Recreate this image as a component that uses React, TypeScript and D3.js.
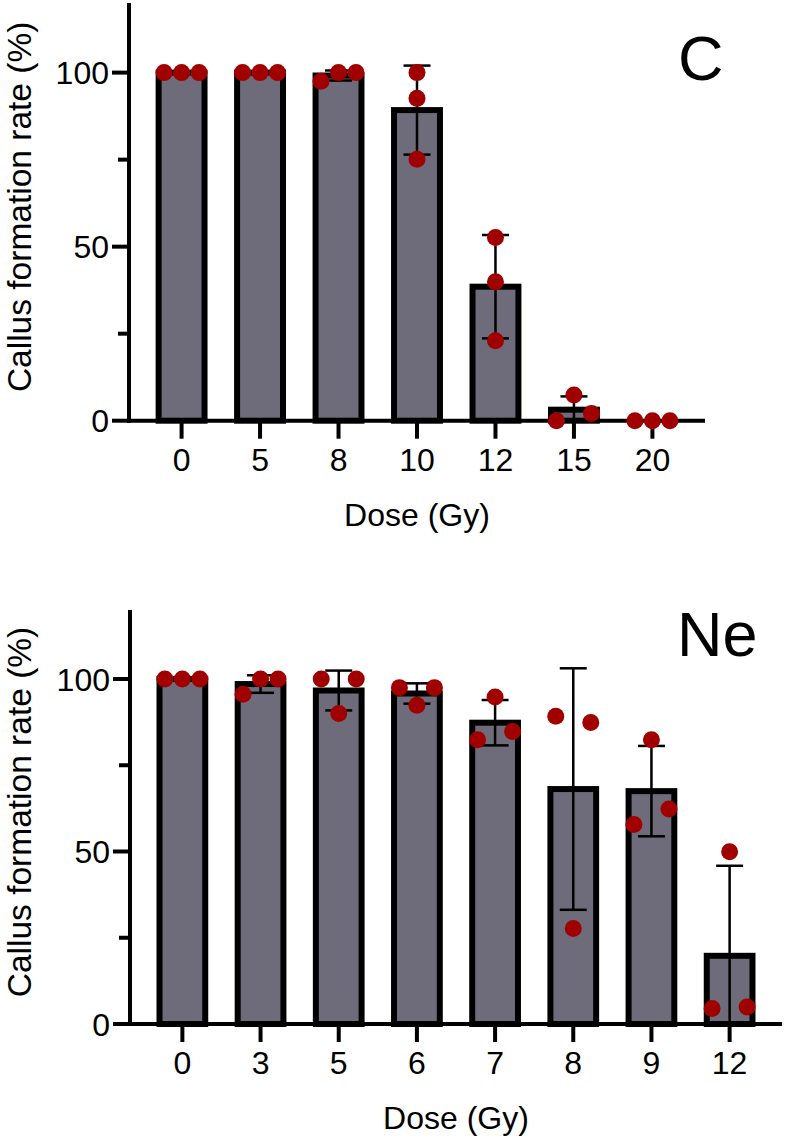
import * as d3 from "d3";

// C ion irradiation: callus formation rate (%) per replicate
const cDoses = ["0", "5", "8", "10", "12", "15", "20"];
const cPoints = [
  [100, 100, 100],
  [100, 100, 100],
  [97.5, 100, 100],
  [100, 92.6, 75.1],
  [52.6, 39.9, 23.0],
  [0, 7.4, 2.1],
  [0, 0, 0],
];

// Ne ion irradiation
const neDoses = ["0", "3", "5", "6", "7", "8", "9", "12"];
const nePoints = [
  [100, 100, 100],
  [95.6, 100, 100],
  [100, 90, 100],
  [97.5, 92.4, 97.5],
  [82.4, 94.8, 84.8],
  [89.2, 27.7, 87.4],
  [57.8, 82.4, 62.3],
  [4.5, 49.9, 4.9],
];

const yMajor = [0, 50, 100];
const yMinor = [25, 75];

const FONT = "'Liberation Sans', Arial, Helvetica, sans-serif";
const BAR_FILL = "#6e6c7a";
const DOT = "#a10000";

// spread colliding dots sideways like the prism scatter
function spreadOffsets(ys: number[], thr: number, d: number) {
  const n = ys.length;
  const parent = ys.map((_, i) => i);
  const find = (i: number): number => (parent[i] === i ? i : (parent[i] = find(parent[i])));
  for (let i = 0; i < n; i++)
    for (let j = i + 1; j < n; j++)
      if (Math.abs(ys[i] - ys[j]) < thr) parent[find(i)] = find(j);
  const groups = d3.group(d3.range(n), (i) => find(i));
  const off = new Array(n).fill(0);
  groups.forEach((idx) => {
    if (idx.length === 2) {
      off[idx[0]] = -d;
      off[idx[1]] = d;
    } else if (idx.length >= 3) {
      idx.forEach((k, m) => (off[k] = (m - (idx.length - 1) / 2) * d));
    }
  });
  return off;
}

type PanelProps = {
  doses: string[];
  points: number[][];
  axisX: number;
  xEnd: number;
  yTopPx: number;
  y0Px: number;
  label: string;
  labelX: number;
  labelY: number;
};

function Panel({ doses, points, axisX, xEnd, yTopPx, y0Px, label, labelX, labelY }: PanelProps) {
  const x = d3.scalePoint<string>().domain(doses).range([axisX, xEnd]).padding(0.67);
  const y = d3.scaleLinear().domain([0, 120]).range([y0Px, yTopPx]);
  const barW = x.step() * 0.585;
  const capW = 27;

  const stats = points.map((p) => {
    const mean = d3.mean(p) as number;
    const sd = d3.deviation(p) || 0;
    return { mean, sd };
  });

  return (
    <g>
      {/* bars */}
      {doses.map((d, i) => {
        const m = stats[i].mean;
        if (m <= 0) return null;
        const cx = x(d) as number;
        return (
          <rect
            key={"b" + d}
            x={cx - barW / 2}
            y={y(m)}
            width={barW}
            height={y(0) - y(m)}
            fill={BAR_FILL}
            stroke="#000"
            strokeWidth={6}
          />
        );
      })}

      {/* error bars */}
      {doses.map((d, i) => {
        const { mean, sd } = stats[i];
        if (sd <= 0) return null;
        const cx = x(d) as number;
        const hi = mean + sd;
        const lo = Math.max(0, mean - sd);
        return (
          <g key={"e" + d} stroke="#000" strokeWidth={2.5}>
            <line x1={cx} x2={cx} y1={y(hi)} y2={y(lo)} />
            <line x1={cx - capW / 2} x2={cx + capW / 2} y1={y(hi)} y2={y(hi)} />
            {mean - sd > 0 && (
              <line x1={cx - capW / 2} x2={cx + capW / 2} y1={y(lo)} y2={y(lo)} />
            )}
          </g>
        );
      })}

      {/* axes */}
      <line x1={axisX} x2={axisX} y1={yTopPx} y2={y0Px + 2} stroke="#000" strokeWidth={4} />
      <line x1={axisX - 2} x2={xEnd} y1={y0Px} y2={y0Px} stroke="#000" strokeWidth={4} />
      {yMajor.map((t) => (
        <g key={"ym" + t}>
          <line x1={axisX - 17} x2={axisX} y1={y(t)} y2={y(t)} stroke="#000" strokeWidth={4} />
          <text
            x={axisX - 20}
            y={y(t)}
            dy="0.36em"
            textAnchor="end"
            fontSize={32}
            fontFamily={FONT}
          >
            {t}
          </text>
        </g>
      ))}
      {yMinor.map((t) => (
        <line key={"yn" + t} x1={axisX - 11} x2={axisX} y1={y(t)} y2={y(t)} stroke="#000" strokeWidth={4} />
      ))}
      {doses.map((d) => (
        <g key={"xt" + d}>
          <line
            x1={x(d) as number}
            x2={x(d) as number}
            y1={y0Px}
            y2={y0Px + 18}
            stroke="#000"
            strokeWidth={4}
          />
          <text
            x={x(d) as number}
            y={y0Px + 50}
            textAnchor="middle"
            fontSize={32}
            fontFamily={FONT}
          >
            {d}
          </text>
        </g>
      ))}

      {/* dots */}
      {doses.map((d, i) => {
        const cx = x(d) as number;
        const ys = points[i].map((v) => y(v));
        const off = spreadOffsets(ys, 16.5, 17.5);
        return points[i].map((v, k) => (
          <circle key={"p" + d + k} cx={cx + off[k]} cy={y(v)} r={8.5} fill={DOT} />
        ));
      })}

      {/* titles */}
      <text
        x={(axisX + xEnd) / 2}
        y={y0Px + 105}
        textAnchor="middle"
        fontSize={32}
        fontFamily={FONT}
      >
        Dose (Gy)
      </text>
      <text
        transform={`translate(31,${(yTopPx + y0Px) / 2 - 5}) rotate(-90)`}
        textAnchor="middle"
        fontSize={33.5}
        fontFamily={FONT}
      >
        Callus formation rate (%)
      </text>
      <text x={labelX} y={labelY} fontSize={63} fontFamily={FONT}>
        {label}
      </text>
    </g>
  );
}

export default function App() {
  return (
    <svg
      width={785}
      height={1139}
      style={{ position: "absolute", left: 0, top: 0, background: "#fff" }}
    >
      <rect width={785} height={1139} fill="#fff" />
      <Panel
        doses={cDoses}
        points={cPoints}
        axisX={129}
        xEnd={705}
        yTopPx={3}
        y0Px={420.7}
        label="C"
        labelX={678}
        labelY={80}
      />
      <Panel
        doses={neDoses}
        points={nePoints}
        axisX={130}
        xEnd={782}
        yTopPx={610}
        y0Px={1024}
        label="Ne"
        labelX={677}
        labelY={656}
      />
    </svg>
  );
}
